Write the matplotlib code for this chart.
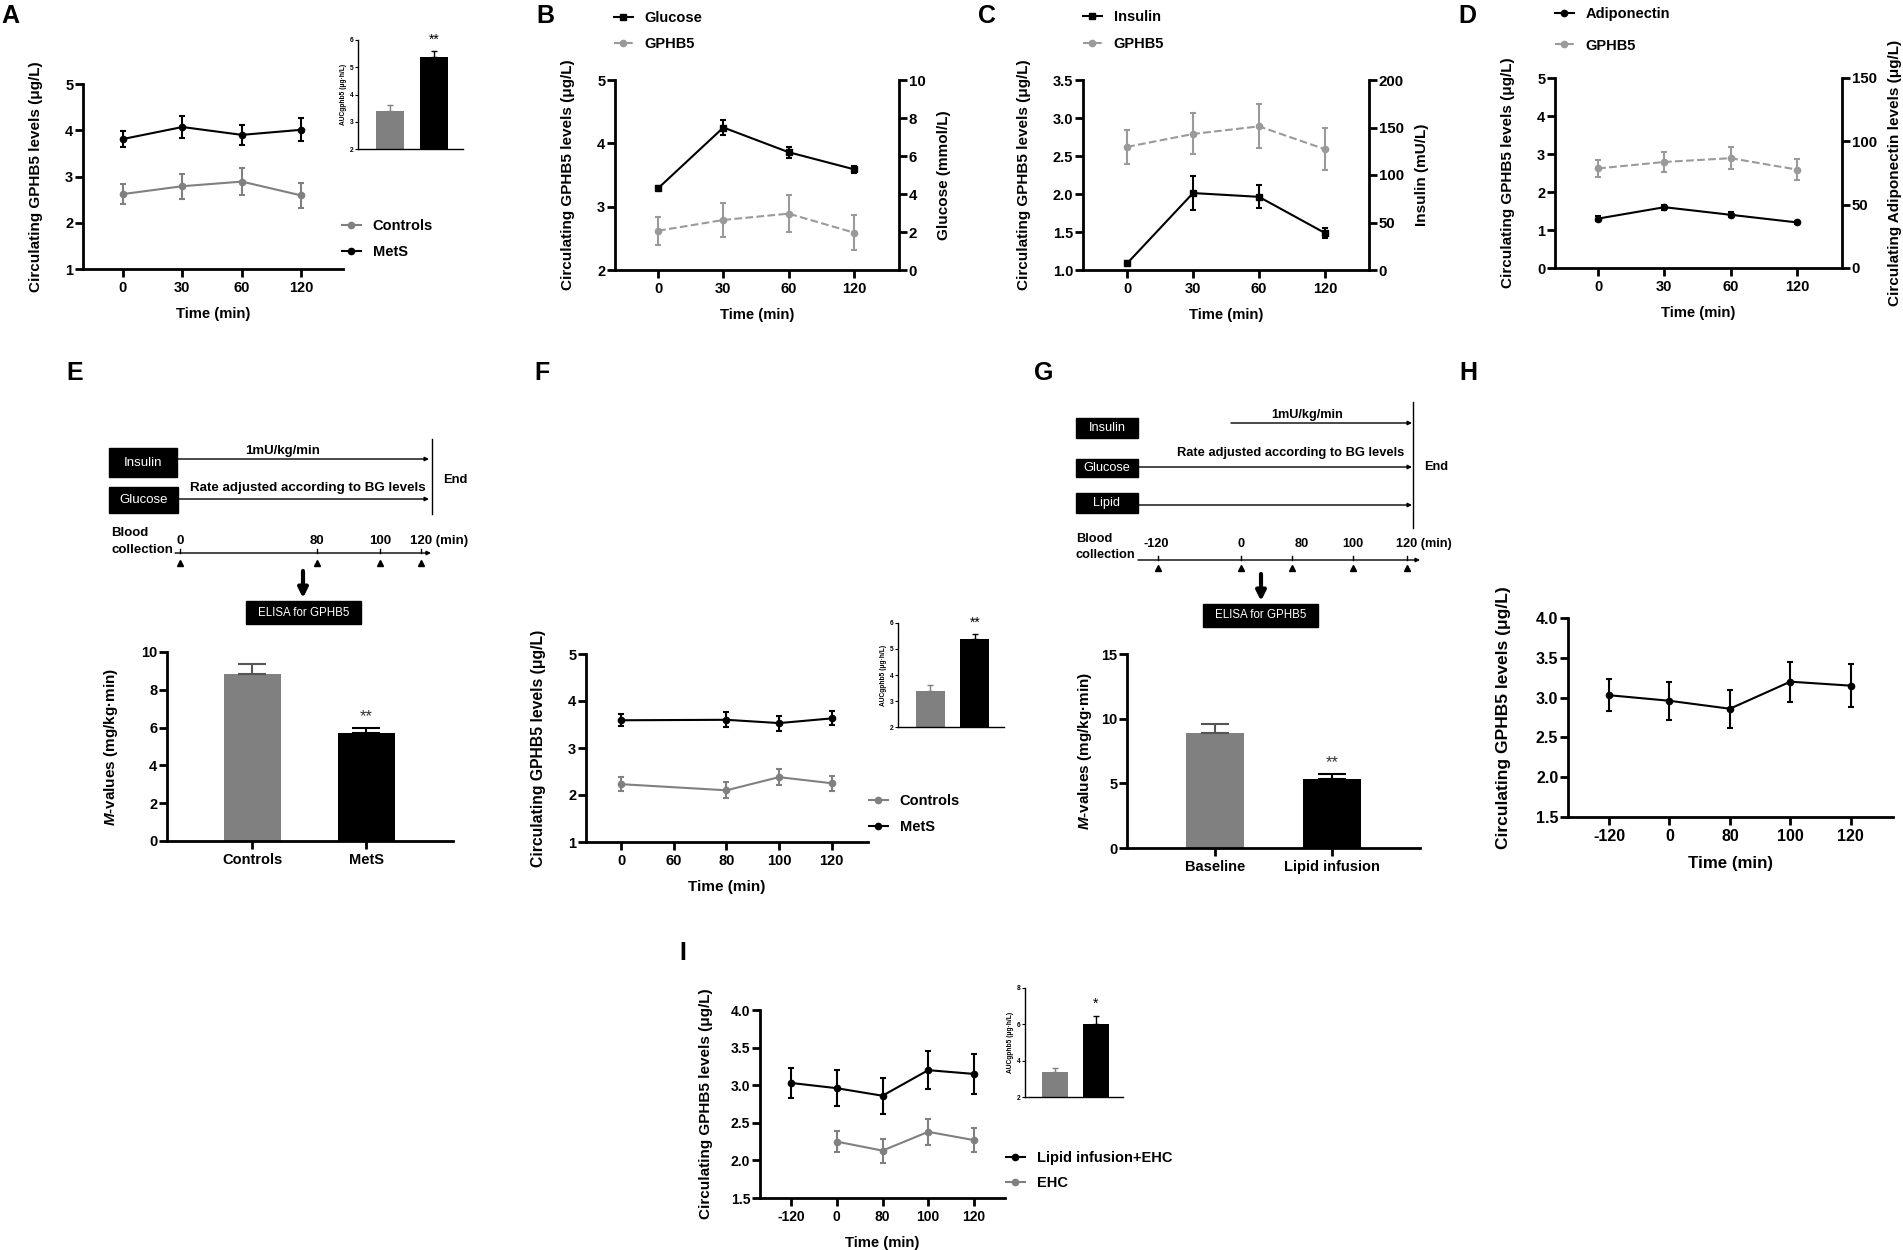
import matplotlib
matplotlib.use("Agg")
import matplotlib.pyplot as plt
from matplotlib.patches import Rectangle
from matplotlib.lines import Line2D

plt.rcParams["font.family"] = ["Liberation Sans", "DejaVu Sans"]
plt.rcParams["font.weight"] = "bold"
plt.rcParams["axes.labelweight"] = "bold"
plt.rcParams["mathtext.fontset"] = "custom"
plt.rcParams["mathtext.it"] = "Liberation Sans:italic:bold"

# ---- data ----
ogtt_times = ["0", "30", "60", "120"]
ctrl_gphb5 = [2.62, 2.79, 2.89, 2.59]
ctrl_gphb5_err = [0.22, 0.27, 0.29, 0.28]
mets_gphb5 = [3.81, 4.07, 3.90, 4.01]
mets_gphb5_err = [0.18, 0.24, 0.21, 0.25]
auc_ogtt = [3.38, 5.38]
auc_ogtt_err = [0.22, 0.20]

glucose = [4.3, 7.5, 6.2, 5.3]
glucose_err = [0.1, 0.4, 0.3, 0.2]
insulin = [7, 81, 77, 39]
insulin_err = [2, 18, 12, 5]
adiponectin = [39, 48, 42, 36]
adiponectin_err = [2, 2, 2, 1]

m_groups = ["Controls", "MetS"]
m_values = [8.85, 5.70]
m_err = [0.50, 0.28]

clamp_axis_times = ["0", "60", "80", "100", "120"]
clamp_times = ["0", "80", "100", "120"]
clamp_mets = [3.59, 3.60, 3.53, 3.63]
clamp_mets_err = [0.13, 0.16, 0.16, 0.15]
clamp_ctrl = [2.23, 2.10, 2.38, 2.25]
clamp_ctrl_err = [0.15, 0.17, 0.17, 0.16]
auc_clamp = [3.38, 5.38]
auc_clamp_err = [0.22, 0.20]

lipid_groups = ["Baseline", "Lipid infusion"]
lipid_m = [8.90, 5.35]
lipid_m_err = [0.70, 0.38]

lipid_axis_times = ["-120", "0", "80", "100", "120"]
lipid_gphb5 = [3.03, 2.96, 2.86, 3.20, 3.15]
lipid_gphb5_err = [0.20, 0.24, 0.24, 0.25, 0.27]
ehc_times = ["0", "80", "100", "120"]
ehc_gphb5 = [2.25, 2.13, 2.38, 2.27]
ehc_gphb5_err = [0.14, 0.16, 0.17, 0.16]
auc_lipid = [3.35, 6.02]
auc_lipid_err = [0.24, 0.46]

GREY = "#808080"
LGREY = "#9a9a9a"
W, H = 1903, 1250

fig = plt.figure(figsize=(W / 100, H / 100), dpi=100)


def px_axes(x0, y0, x1, y1):
    return fig.add_axes([x0 / W, 1 - y1 / H, (x1 - x0) / W, (y1 - y0) / H])


def style(ax, right=False, lw=2.0, size=10.5):
    ax.spines["top"].set_visible(False)
    if right:
        ax.spines["left"].set_visible(False)
        ax.spines["bottom"].set_visible(False)
    else:
        ax.spines["right"].set_visible(False)
    for s in ax.spines.values():
        s.set_linewidth(lw)
    ax.tick_params(width=lw, length=5.5, labelsize=size, pad=1.5)
    ax.tick_params(axis="x", pad=3)
    ax.patch.set_alpha(0)


def line_axes(box, xlabels, xlim, ylim, yticks, tsize=10.5, lsize=11, ypad=16):
    ax = px_axes(*box)
    ax.set_xlim(xlim)
    ax.set_ylim(ylim)
    ax.set_yticks(yticks)
    ax.set_xticks(range(len(xlabels)))
    ax.set_xticklabels(xlabels)
    ax.set_xlabel("Time (min)", fontsize=lsize - 0.3, labelpad=9)
    ax.set_ylabel("Circulating GPHB5 levels (μg/L)", fontsize=lsize, labelpad=ypad)
    style(ax, size=tsize)
    return ax


def series(ax, x, y, err, color, ls="-", marker="o", ms=4.5):
    ax.errorbar(x, y, yerr=err, color=color, ls=ls, marker=marker, ms=ms,
                lw=1.5, elinewidth=1.5, capsize=2.5, capthick=1.5)


def handle(color, ls="-", marker="o"):
    return Line2D([], [], color=color, ls=ls, marker=marker, ms=4.5, lw=1.5)


def legend_at(ax, handles, labels, x, y, spacing=0.6):
    ax.legend(handles, labels, loc="upper left", bbox_to_anchor=(x / W, 1 - y / H),
              bbox_transform=fig.transFigure, frameon=False, fontsize=10.5,
              handlelength=1.3, handletextpad=0.8, labelspacing=spacing,
              borderaxespad=0, borderpad=0)


def inset_bars(box, vals, errs, ylim, yticks, star):
    ax = px_axes(*box)
    cols = [GREY, "black"]
    ax.bar(range(2), vals, width=0.65, color=cols)
    for i in range(2):
        ax.errorbar(i, vals[i], yerr=[[0], [errs[i]]], color=cols[i],
                    lw=1, capsize=2.5, capthick=1)
    ax.text(1, vals[1] + errs[1] + (ylim[1] - ylim[0]) * 0.04, star,
            ha="center", va="bottom", fontsize=10, fontweight="normal")
    ax.set_xlim(-0.73, 1.66)
    ax.set_ylim(ylim)
    ax.set_yticks(yticks)
    ax.set_xticks([])
    ax.set_ylabel("AUCgphb5 (μg·h/L)", fontsize=4.8, labelpad=2)
    style(ax, lw=1.0, size=4.8)
    ax.tick_params(length=2, width=0.8, pad=1)
    return ax


def mbars(box, groups, vals, errs, ylim, yticks, xlim, ypad):
    ax = px_axes(*box)
    cols = [GREY, "black"]
    ax.bar(range(2), vals, width=0.5, color=cols)
    ecols = ["#555555", "black"]
    for i in range(2):
        ax.errorbar(i, vals[i], yerr=[[0], [errs[i]]], color=ecols[i],
                    lw=1.5, capsize=10, capthick=1.5)
    ax.text(1, vals[1] + errs[1] + (ylim[1] - ylim[0]) * 0.02, "**",
            ha="center", va="bottom", fontsize=12, fontweight="normal",
            color="#333333")
    ax.set_xlim(xlim)
    ax.set_ylim(ylim)
    ax.set_yticks(yticks)
    ax.set_xticks(range(2))
    ax.set_xticklabels(groups, fontsize=11)
    ax.set_ylabel(r"$\it{M}$-values (mg/kg·min)", fontsize=11, labelpad=ypad)
    style(ax)
    return ax


# ---- A ----
ax = line_axes((83, 84, 343, 269), ogtt_times, (-0.67, 3.7), (1, 5), range(1, 6))
x = range(len(ogtt_times))
series(ax, x, ctrl_gphb5, ctrl_gphb5_err, GREY)
series(ax, x, mets_gphb5, mets_gphb5_err, "black")
legend_at(ax, [handle(GREY), handle("black")], ["Controls", "MetS"], 342, 219, 0.8)
inset_bars((358, 40, 463, 149), auc_ogtt, auc_ogtt_err, (2, 6), range(2, 7), "**")

# ---- B, C, D (dual axis) ----
dual = [
    ((615, 80, 899, 270), (-0.66, 3.69), (2, 5), range(2, 6), "Glucose",
     glucose, glucose_err, (0, 10), range(0, 11, 2), "Glucose (mmol/L)", "s", 614, 11, 0.85),
    ((1083, 80, 1369, 270), (-0.67, 3.67), (1, 3.5), [1.0, 1.5, 2.0, 2.5, 3.0, 3.5], "Insulin",
     insulin, insulin_err, (0, 200), range(0, 201, 50), "Insulin (mU/L)", "s", 1083, 10, 0.9),
    ((1555, 78, 1842, 268), (-0.65, 3.68), (0, 5), range(0, 6), "Adiponectin",
     adiponectin, adiponectin_err, (0, 150), range(0, 151, 50),
     "Circulating Adiponectin levels (μg/L)", "o", 1555, 7, 1.2),
]
for box, xl, yl, yt, name, vals, errs, yl2, yt2, lab2, mk, lx, ly, sp in dual:
    ax = line_axes(box, ogtt_times, xl, yl, yt)
    ax2 = ax.twinx()
    ax2.set_ylim(yl2)
    ax2.set_yticks(yt2)
    style(ax2, right=True, size=10.8)
    ax2.set_ylabel(lab2, fontsize=11, labelpad=8)
    series(ax, x, ctrl_gphb5, ctrl_gphb5_err, LGREY, ls="--")
    series(ax2, x, vals, errs, "black", marker=mk)
    legend_at(ax2, [handle("black", marker=mk), handle(LGREY, ls="--")],
              [name, "GPHB5"], lx, ly, sp)

# ---- E bars ----
mbars((167, 652, 453, 841), m_groups, m_values, m_err, (0, 10), range(0, 11, 2),
      (-0.75, 1.76), 15)

# ---- F ----
ax = line_axes((586, 654, 868, 842), clamp_axis_times, (-0.67, 4.69), (1, 5), range(1, 6),
               lsize=11.3)
xf = [clamp_axis_times.index(t) for t in clamp_times]
series(ax, xf, clamp_ctrl, clamp_ctrl_err, GREY)
series(ax, xf, clamp_mets, clamp_mets_err, "black")
legend_at(ax, [handle(GREY), handle("black")], ["Controls", "MetS"], 869, 794, 0.8)
inset_bars((898, 623, 1004, 727), auc_clamp, auc_clamp_err, (2, 6), range(2, 7), "**")

# ---- G bars ----
mbars((1127, 654, 1420, 848), lipid_groups, lipid_m, lipid_m_err, (0, 15), range(0, 16, 5),
      (-0.75, 1.75), 5)

# ---- H ----
ax = line_axes((1568, 618, 1893, 817), lipid_axis_times, (-0.68, 4.7), (1.5, 4.0),
               [1.5, 2.0, 2.5, 3.0, 3.5, 4.0], tsize=11.5, lsize=12.5, ypad=18)
xl = range(len(lipid_axis_times))
series(ax, xl, lipid_gphb5, lipid_gphb5_err, "black")

# ---- I ----
ax = line_axes((760, 1010, 1005, 1198), lipid_axis_times, (-0.68, 4.68), (1.5, 4.0),
               [1.5, 2.0, 2.5, 3.0, 3.5, 4.0], tsize=10, lsize=11, ypad=13)
xe = [lipid_axis_times.index(t) for t in ehc_times]
series(ax, xl, lipid_gphb5, lipid_gphb5_err, "black")
series(ax, xe, ehc_gphb5, ehc_gphb5_err, GREY)
legend_at(ax, [handle("black"), handle(GREY)], ["Lipid infusion+EHC", "EHC"], 1006, 1151, 0.75)
inset_bars((1025, 988, 1123, 1097), auc_lipid, auc_lipid_err, (2, 8), range(2, 9, 2), "*")

# ---- schematics and panel letters (pixel space overlay) ----
dg = fig.add_axes([0, 0, 1, 1])
dg.set_xlim(0, W)
dg.set_ylim(H, 0)
dg.axis("off")


def box(x0, y0, x1, y1, txt, size=9.5):
    dg.add_patch(Rectangle((x0, y0), x1 - x0, y1 - y0, color="black"))
    dg.text((x0 + x1) / 2, (y0 + y1) / 2, txt, color="white", ha="center",
            va="center", fontsize=size, fontweight="normal")


def arrow(x0, x1, y, lw=1.0, scale=6):
    dg.annotate("", xy=(x1, y), xytext=(x0, y),
                arrowprops=dict(arrowstyle="-|>", lw=lw, color="black",
                                mutation_scale=scale, shrinkA=0, shrinkB=0))


def down_arrow(xc, y0, y1):
    dg.annotate("", xy=(xc, y1), xytext=(xc, y0),
                arrowprops=dict(arrowstyle="-|>", lw=3, color="black",
                                mutation_scale=14, shrinkA=0, shrinkB=0))


def timeline(x0, x1, y, ticks, labels, lab_x, lab_y, tri_y, size=9.5):
    arrow(x0, x1, y)
    for tx in ticks:
        dg.plot([tx, tx], [y - 4, y], color="black", lw=1)
    dg.plot(ticks, [tri_y] * len(ticks), ls="none", marker="^", ms=5, color="black")
    for lx_, lab in zip(lab_x[:-1], labels[:-1]):
        dg.text(lx_, lab_y, lab, ha="center", va="center", fontsize=size)
    dg.text(lab_x[-1], lab_y, labels[-1] + " (min)", ha="left", va="center", fontsize=size)


# E schematic
box(109, 448, 177, 477, "Insulin")
box(109, 487, 178, 513, "Glucose")
arrow(177, 429, 459)
arrow(178, 429, 499)
dg.text(283, 451, "1mU/kg/min", ha="center", va="center", fontsize=9.5)
dg.text(308, 488, "Rate adjusted according to BG levels", ha="center", va="center", fontsize=9.6)
dg.plot([432, 432], [439, 514], color="black", lw=1)
dg.text(443, 480, "End", ha="left", va="center", fontsize=9.3)
dg.text(111, 533, "Blood", ha="left", va="center", fontsize=9.5)
dg.text(111, 550, "collection", ha="left", va="center", fontsize=9.5)
timeline(175, 431, 553, [180, 317, 380, 421], ["0", "80", "100", "120"],
         [180, 317, 380, 410], 541, 563)
down_arrow(303, 571, 598)
box(246, 601, 361, 624, "ELISA for GPHB5", size=8.3)

# G schematic
box(1076, 418, 1138, 438, "Insulin", size=9.2)
box(1076, 459, 1138, 477, "Glucose", size=9.2)
box(1076, 493, 1138, 513, "Lipid", size=9.2)
arrow(1231, 1412, 423)
arrow(1138, 1412, 467)
arrow(1138, 1412, 505)
dg.text(1307, 415, "1mU/kg/min", ha="center", va="center", fontsize=9.2)
dg.text(1291, 453, "Rate adjusted according to BG levels", ha="center", va="center", fontsize=9.3)
dg.plot([1413, 1413], [402, 528], color="black", lw=1)
dg.text(1424, 467, "End", ha="left", va="center", fontsize=9.2)
dg.text(1076, 539, "Blood", ha="left", va="center", fontsize=9.2)
dg.text(1076, 555, "collection", ha="left", va="center", fontsize=9.2)
timeline(1138, 1420, 560, [1158, 1241, 1292, 1353, 1407],
         ["-120", "0", "80", "100", "120"], [1156, 1241, 1302, 1353, 1396], 544, 568,
         size=9.2)
down_arrow(1261, 574, 601)
box(1203, 604, 1318, 627, "ELISA for GPHB5", size=8.3)

letters = {"A": (10, 16), "B": (545, 16), "C": (987, 16), "D": (1467, 16),
           "E": (75, 373), "F": (542, 373), "G": (1044, 373), "H": (1468, 373),
           "I": (683, 953)}
for k, (lx_, ly_) in letters.items():
    dg.text(lx_, ly_, k, ha="center", va="center", fontsize=18, fontweight="bold")

fig.savefig("out.png", dpi=100)
